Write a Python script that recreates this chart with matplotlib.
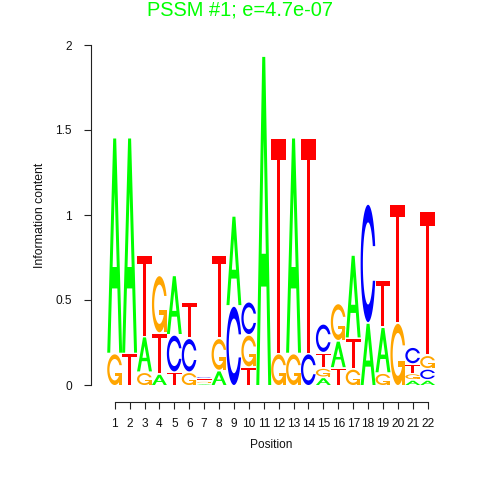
#!/usr/bin/env python3

# logo_plot.py - Draw a PSSM sequence logo (seqLogo style letters)

import numpy as np
import matplotlib

matplotlib.use("Agg")
import matplotlib.pyplot as plt
from matplotlib.patches import Polygon

TITLE = "PSSM #1; e=4.7e-07"
POSITIONS = list(range(1, 23))
BASES = ["A", "C", "G", "T"]

# Information content of each base at each position
HT_A = [1.26, 1.26, 0.20, 0.06, 0.34, 0.0, 0.004, 0.08, 0.52, 0.0, 1.93,
        0.0, 1.26, 0.0, 0.04, 0.15, 0.48, 0.36, 0.26, 0.0, 0.025, 0.025]
HT_C = [0.0, 0.0, 0.0, 0.0, 0.21, 0.19, 0.0045, 0.0, 0.46, 0.185, 0.0,
        0.0, 0.0, 0.18, 0.16, 0.0, 0.0, 0.69, 0.0, 0.0, 0.09, 0.055]
HT_G = [0.18, 0.0, 0.07, 0.33, 0.0, 0.07, 0.0042, 0.18, 0.0, 0.18, 0.0,
        0.18, 0.18, 0.0, 0.045, 0.21, 0.09, 0.0, 0.065, 0.36, 0.028, 0.07]
HT_T = [0.0, 0.18, 0.47, 0.23, 0.07, 0.20, 0.0044, 0.48, 0.0, 0.10, 0.0,
        1.26, 0.0, 1.26, 0.08, 0.095, 0.17, 0.0, 0.265, 0.69, 0.045, 0.84]

Y_TICKS = [0, 0.5, 1, 1.5, 2]
Y_TICK_LABELS = ["0", "0.5", "1", "1.5", "2"]

COLORS = {"A": "#00ff00", "C": "#0000ff", "G": "#ffa500", "T": "#ff0000"}
GAP = 0.01  # space left between stacked letters
WIDTH = 1.0

plt.rcParams["font.family"] = ["Liberation Sans", "DejaVu Sans"]


def c_outline():
    """Unit-square outline of a 'C', same construction as seqLogo."""
    a1 = np.linspace(0.3 + np.pi / 2, np.pi, 100)
    a2 = np.linspace(np.pi, 1.5 * np.pi, 100)
    xl = np.concatenate([0.5 + 0.5 * np.sin(a1), 0.5 + 0.5 * np.sin(a2)])
    yl1 = 0.5 + 0.5 * np.cos(a1)
    yl = np.concatenate([yl1, 0.5 + 0.5 * np.cos(a2)])
    x = np.concatenate([xl, xl[::-1]])
    y = np.concatenate([yl, 1 - yl[::-1]])

    xi1 = 0.5 + 0.35 * np.sin(a1)
    yi1 = 0.5 + 0.35 * np.cos(a1)
    keep = yi1 <= yl1.max()
    xi1, yi1 = xi1[keep], yi1[keep]
    yi1[0] = yl1.max()
    xi = np.concatenate([xi1, 0.5 + 0.35 * np.sin(a2)])
    yi = np.concatenate([yi1, 0.5 + 0.35 * np.cos(a2)])
    x1 = np.concatenate([xi, xi[::-1]])
    y1 = np.concatenate([yi, 1 - yi[::-1]])

    x = np.concatenate([x, x1[::-1]])
    y = np.concatenate([y, y1[::-1]])
    return np.column_stack([x, y]), xl.max()


def letter_shapes():
    c_xy, r1 = c_outline()
    h1 = 0.4
    g_bar = np.array([[r1, h1], [0.5, h1], [0.5, h1 - 0.1], [r1 - 0.2, h1 - 0.1],
                      [r1 - 0.2, 0], [r1, 0], [r1, h1]])
    a_out = np.array([[0, 0], [4, 10], [6, 10], [10, 0], [8, 0],
                      [6.8, 3], [3.2, 3], [2, 0]]) / 10
    a_in = np.array([[3.6, 4], [5, 7.5], [6.4, 4]]) / 10
    t_xy = np.array([[0, 10], [10, 10], [10, 9], [6, 9], [6, 0],
                     [4, 0], [4, 9], [0, 9]]) / 10
    return {
        "A": [(a_out, COLORS["A"]), (a_in, "white")],
        "C": [(c_xy, COLORS["C"])],
        "G": [(c_xy, COLORS["G"]), (g_bar, COLORS["G"])],
        "T": [(t_xy, COLORS["T"])],
    }


def main() -> None:
    heights = {"A": HT_A, "C": HT_C, "G": HT_G, "T": HT_T}
    shapes = letter_shapes()

    fig = plt.figure(figsize=(4.8, 4.8), dpi=100, facecolor="white")
    ax = fig.add_axes([90.7 / 480, 78 / 480, 361 / 480, 357 / 480])
    ax.set_xlim(-0.61, 23.61)
    ax.set_ylim(-0.1, 2.0)

    # Stack letters, smallest at the bottom
    for j, pos in enumerate(POSITIONS):
        col = sorted(BASES, key=lambda b: heights[b][j])
        y0 = 0.0
        for base in col:
            ht = heights[base][j]
            if ht <= 0:
                continue
            for unit, color in shapes[base]:
                xy = np.column_stack([pos - WIDTH / 2 + unit[:, 0] * WIDTH,
                                      y0 + unit[:, 1] * ht])
                ax.add_patch(Polygon(xy, closed=True, facecolor=color,
                                     edgecolor="none", linewidth=0))
            y0 += ht + GAP

    # R-style detached axes
    for side in ["top", "right"]:
        ax.spines[side].set_visible(False)
    ax.spines["left"].set_bounds(0, 2)
    ax.spines["bottom"].set_bounds(POSITIONS[0], POSITIONS[-1])
    for side in ["left", "bottom"]:
        ax.spines[side].set_linewidth(0.8)
        ax.spines[side].set_color("#222222")

    ax.set_xticks(POSITIONS)
    ax.set_xticklabels([str(p) for p in POSITIONS])
    ax.set_yticks(Y_TICKS)
    ax.set_yticklabels(Y_TICK_LABELS)
    ax.tick_params(axis="both", direction="out", length=5.2, width=0.8,
                   color="#222222", labelsize=8.6, labelcolor="#111111")
    ax.tick_params(axis="y", pad=8.3)
    ax.tick_params(axis="x", pad=6)

    ax.set_xlabel("Position", fontsize=8.6, color="#111111", labelpad=7)
    ax.set_ylabel("Information content", fontsize=8.8, color="#111111")
    ax.yaxis.set_label_coords(-0.124, 0.524)

    fig.text(0.5, 1 - 15 / 480, TITLE, ha="center", va="baseline",
             color="#00ff00", fontsize=14.4)

    fig.savefig("out.png", dpi=100, facecolor="white")


if __name__ == "__main__":
    main()
